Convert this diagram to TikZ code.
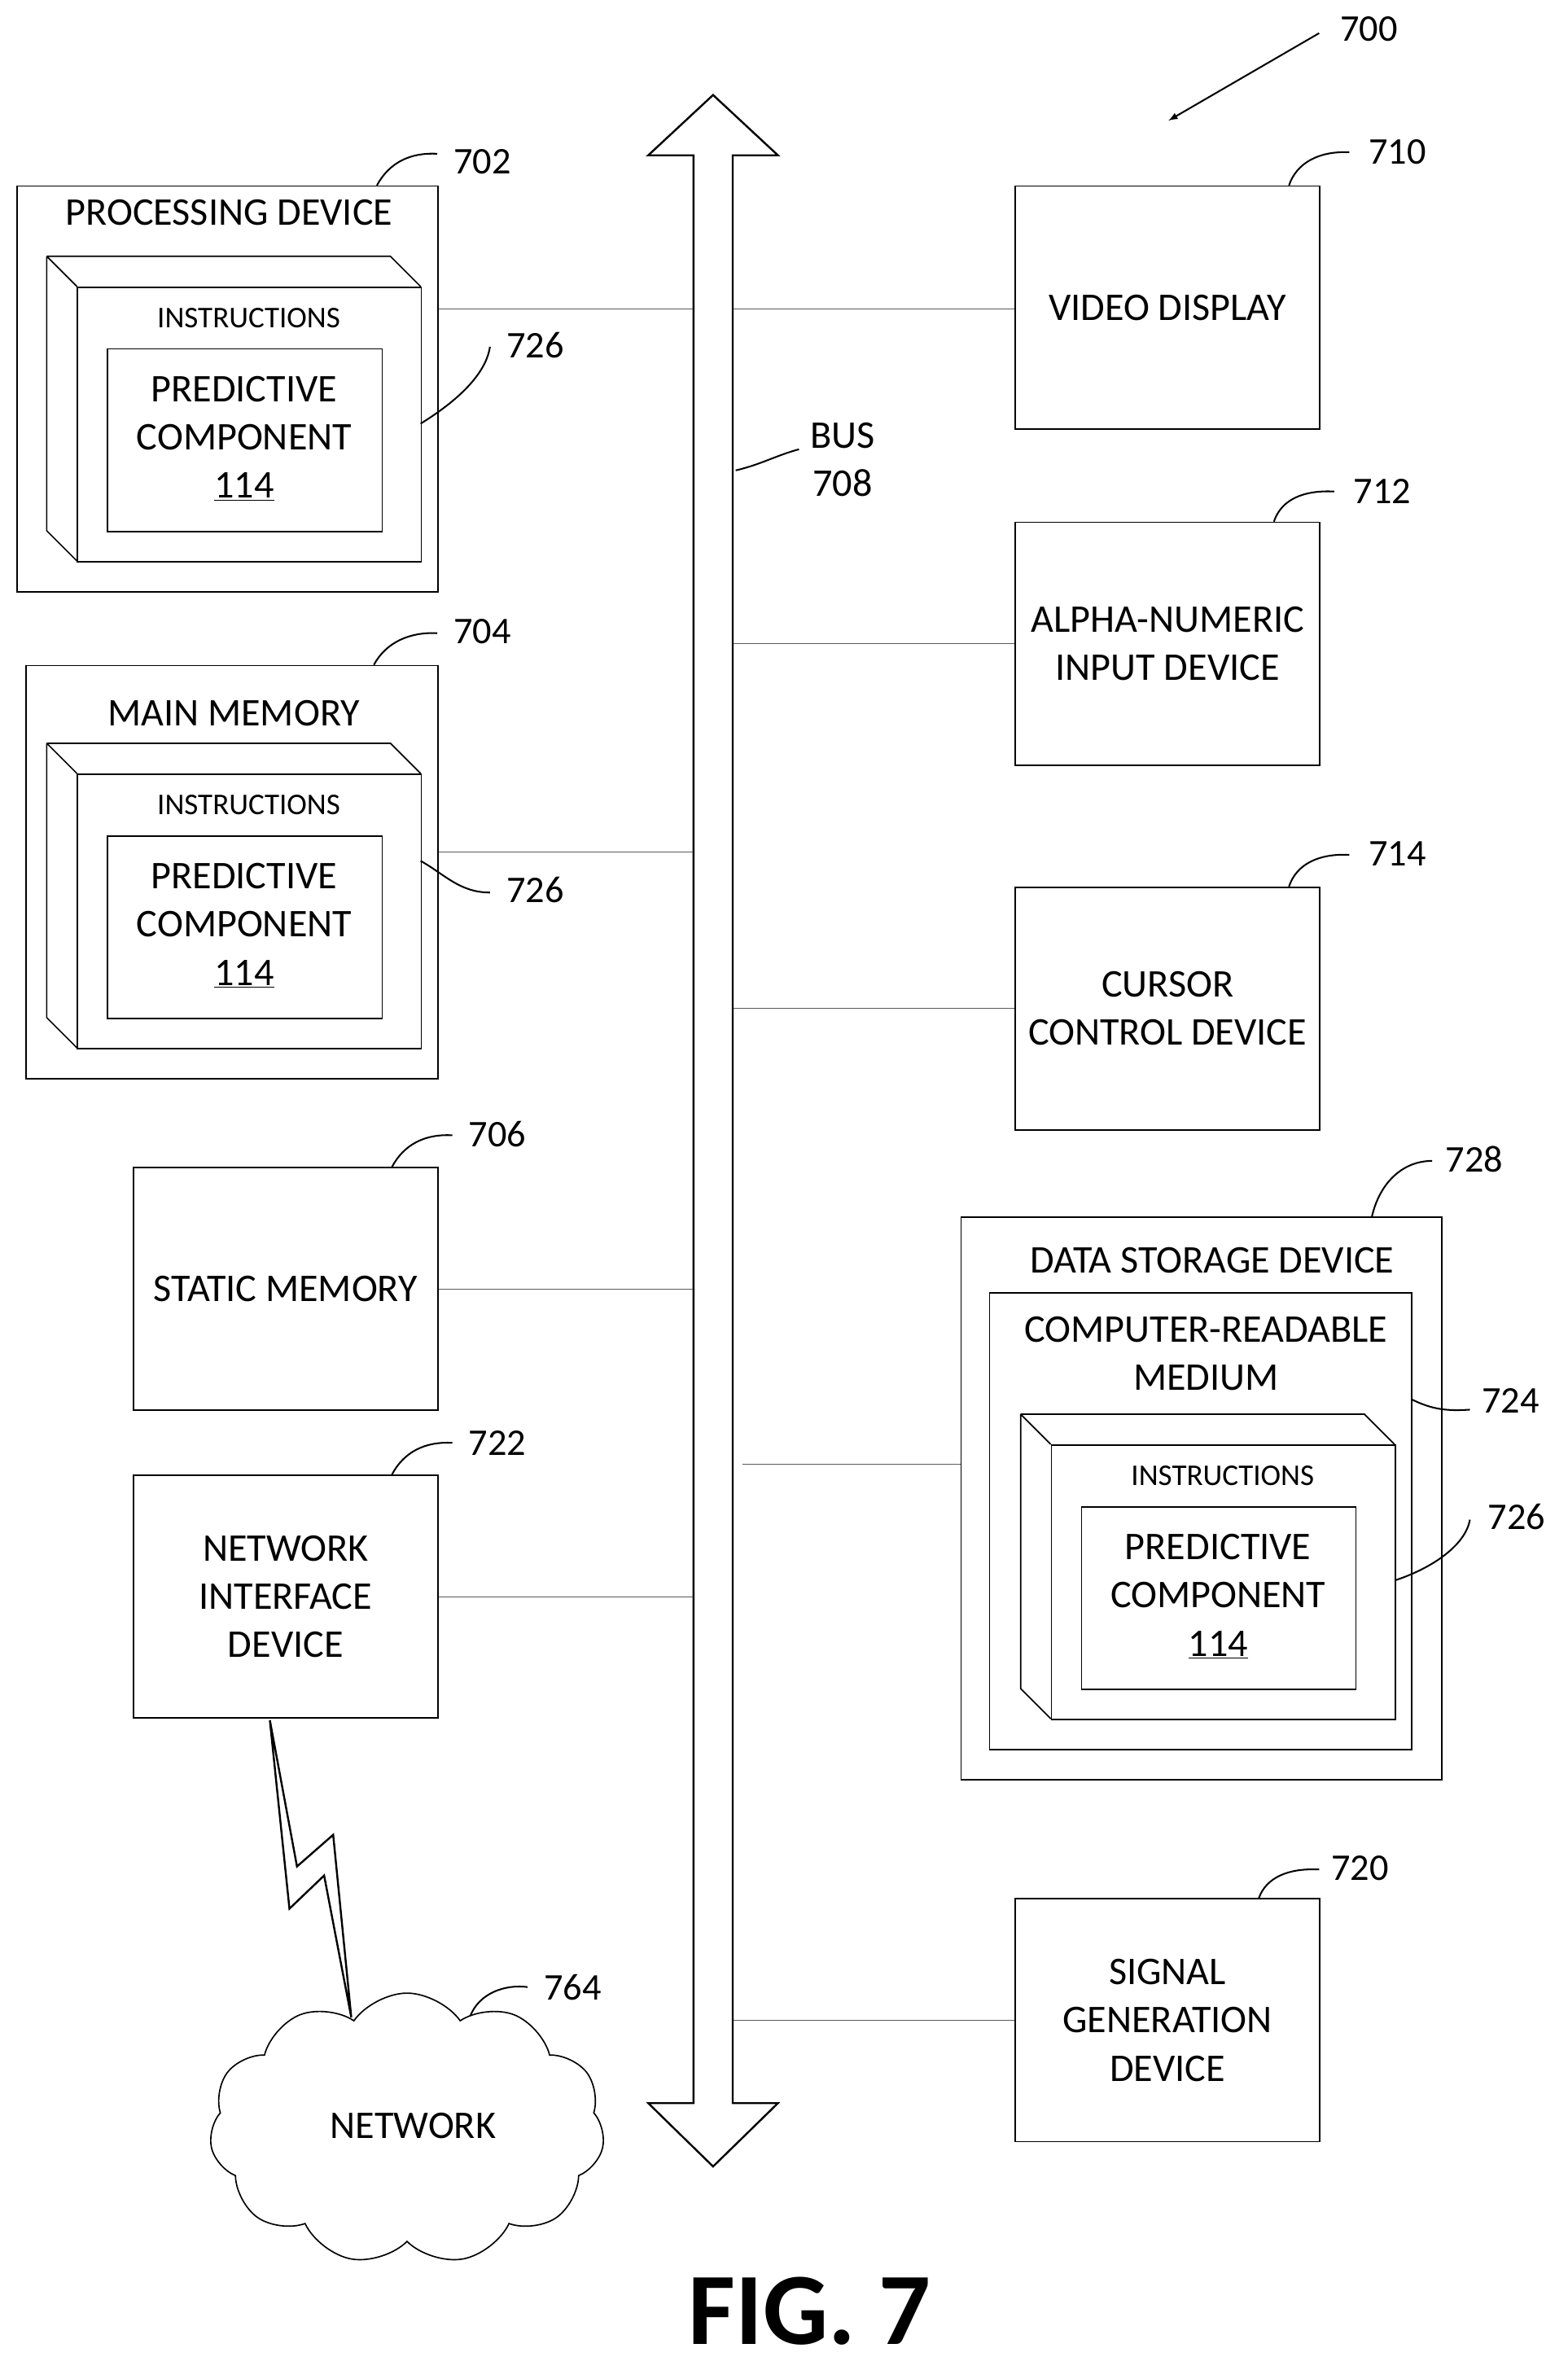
\documentclass[tikz,border=0pt]{standalone}
\usepackage{fontspec}
\setmainfont{Carlito}
\usetikzlibrary{shapes.symbols,calc}
\begin{document}
\begin{tikzpicture}[x=1pt,y=-1pt,
  line width=0.9pt,
  box/.style={draw,inner sep=0pt,anchor=north west},
  txt/.style={font=\fontsize{26}{32}\selectfont,align=center,inner sep=0pt},
  stxt/.style={font=\fontsize{20}{24}\selectfont,inner sep=0pt},
  num/.style={font=\fontsize{25}{30}\selectfont,inner sep=0pt},
  conn/.style={line width=0.6pt,gray!70!black},
  lead/.style={line width=1.1pt}]
\useasboundingbox (0,0) rectangle (1040,1572);
% bus
\node[inner sep=0pt,minimum width=26pt,minimum height=1292pt] (bus) at (473,749) {};
\draw[line width=1.3pt] (460,103) -- (430,103) -- (473,63) -- (516,103) -- (486,103) -- (486,1395) -- (516,1395) -- (473,1437) -- (430,1395) -- (460,1395) -- cycle;
\node[txt,anchor=west] (buslbl) at (537,305) {BUS\\708};
\draw[lead] (488,312) .. controls (505,308) and (515,302) .. (530,298);
\newcommand{\instrbox}[4]{%
  \draw (#2-20,#3-20) -- (#2+208,#3-20) -- (#2+228,#3) (#2-20,#3-20) -- (#2,#3) (#2-20,#3-20) -- (#2-20,#3+162) -- (#2,#3+182);
  \node[box,minimum width=228pt,minimum height=182pt] (#1) at (#2,#3) {};
  \node[stxt] (#1t) at (#2+114,#3+21) {INSTRUCTIONS};
  \node[box,minimum width=182pt,minimum height=121pt] (#1p) at (#2+20,#3+41) {};
  \node[txt] (#1pt) at (#2+111,#3+101) {PREDICTIVE\\COMPONENT\\\underline{114}};
}
% 702
\node[box,minimum width=279pt,minimum height=269pt] (pd) at (11,123) {};
\node[txt] (pdt) at (152,141) {PROCESSING DEVICE};
\instrbox{ia}{51}{190}{a}
\draw[lead] (250,123) .. controls (258,108) and (272,101) .. (290,102);
\node[num] (n702) at (320,107) {702};
\draw[lead] (279,281) .. controls (300,268) and (322,250) .. (325,230);
\node[num] (n726a) at (355,229) {726};
% 704
\node[box,minimum width=273pt,minimum height=274pt] (mm) at (17,441) {};
\node[txt] (mmt) at (155,473) {MAIN MEMORY};
\instrbox{ib}{51}{513}{b}
\draw[lead] (248,441) .. controls (256,426) and (272,419) .. (290,420);
\node[num] (n704) at (320,419) {704};
\draw[lead] (279,571) .. controls (295,580) and (305,592) .. (325,592);
\node[num] (n726b) at (355,590) {726};
% 706
\node[box,minimum width=202pt,minimum height=161pt] (sm) at (88,774) {};
\node[txt] at (sm.center) {STATIC MEMORY};
\draw[lead] (260,774) .. controls (268,759) and (282,752) .. (300,753);
\node[num] (n706) at (330,752) {706};
% 722
\node[box,minimum width=202pt,minimum height=161pt] (ni) at (88,978) {};
\node[txt] at (ni.center) {NETWORK\\INTERFACE\\DEVICE};
\draw[lead] (260,978) .. controls (268,963) and (282,956) .. (300,957);
\node[num] (n722) at (330,957) {722};
% lightning and cloud
\node[cloud,draw,cloud puffs=11,cloud puff arc=110,aspect=1.55,minimum width=262pt,minimum height=180pt,inner sep=0pt] (net) at (270,1412) {};
\node[txt] at (274,1410) {NETWORK};
\draw[line width=1.3pt] (179,1141) -- (197,1238) -- (221,1217) -- (233,1338) -- (215,1244) -- (192,1266) -- cycle;
\draw[lead] (312,1337) .. controls (318,1322) and (335,1316) .. (350,1318);
\node[num] (n764) at (380,1318) {764};
% right column
\node[box,minimum width=202pt,minimum height=161pt] (vd) at (673,123) {};
\node[txt] at (vd.center) {VIDEO DISPLAY};
\draw[lead] (855,123) .. controls (860,108) and (875,100) .. (895,101);
\node[num] (n710) at (927,101) {710};
\node[box,minimum width=202pt,minimum height=161pt] (an) at (673,346) {};
\node[txt] at (an.center) {ALPHA-NUMERIC\\INPUT DEVICE};
\draw[lead] (845,346) .. controls (850,331) and (865,325) .. (885,326);
\node[num] (n712) at (917,326) {712};
\node[box,minimum width=202pt,minimum height=161pt] (cc) at (673,588) {};
\node[txt] at (cc.center) {CURSOR\\CONTROL DEVICE};
\draw[lead] (855,588) .. controls (860,573) and (875,566) .. (895,567);
\node[num] (n714) at (927,566) {714};
% 728
\node[box,minimum width=319pt,minimum height=373pt] (ds) at (637,807) {};
\node[txt] at (804,836) {DATA STORAGE DEVICE};
\node[box,minimum width=280pt,minimum height=303pt] (cr) at (656,857) {};
\node[txt] at (800,898) {COMPUTER-READABLE\\MEDIUM};
\instrbox{ic}{697}{958}{c}
\draw[lead] (910,807) .. controls (915,785) and (930,770) .. (950,770);
\node[num] (n728) at (978,769) {728};
\draw[lead] (936,928) .. controls (950,935) and (960,936) .. (975,935);
\node[num] (n724) at (1002,929) {724};
\draw[lead] (926,1048) .. controls (950,1040) and (972,1025) .. (975,1008);
\node[num] (n726c) at (1006,1006) {726};
% 720
\node[box,minimum width=202pt,minimum height=161pt] (sg) at (673,1259) {};
\node[txt] at (sg.center) {SIGNAL\\GENERATION\\DEVICE};
\draw[lead] (835,1259) .. controls (840,1245) and (855,1239) .. (875,1240);
\node[num] (n720) at (902,1239) {720};
% connectors
\draw[conn] (pd.east |- 0,205) -- (bus.west |- 0,205);
\draw[conn] (bus.east |- 0,205) -- (vd.west |- 0,205);
\draw[conn] (mm.east |- 0,565) -- (bus.west |- 0,565);
\draw[conn] (sm.east) -- (bus.west |- sm.east);
\draw[conn] (ni.east |- 0,1059) -- (bus.west |- 0,1059);
\draw[conn] (bus.east |- an.west) -- (an.west);
\draw[conn] (bus.east |- cc.west) -- (cc.west);
\draw[conn] ($(bus.east |- 0,971)+(6,0)$) -- (ds.west |- 0,971);
\draw[conn] (bus.east |- sg.west) -- (sg.west);
% 700
\coordinate (a700) at (875,22);
\node[num] (n700) at (908,19) {700};
\draw[lead,-latex] (a700) -- (775,80);
\node[font=\bfseries\fontsize{68}{80}\selectfont,inner sep=0pt] (fig) at (537,1533) {FIG. 7};
\end{tikzpicture}
\end{document}
